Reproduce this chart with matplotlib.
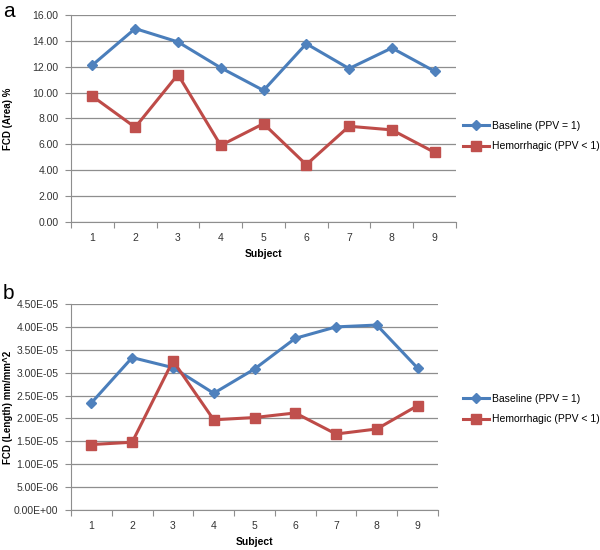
import matplotlib
matplotlib.use("Agg")
import matplotlib.pyplot as plt
import numpy as np
from matplotlib.ticker import FixedLocator, FuncFormatter

subjects = [1, 2, 3, 4, 5, 6, 7, 8, 9]
series_names = ["Baseline (PPV = 1)", "Hemorrhagic (PPV < 1)"]

area_baseline = [12.13, 14.95, 13.92, 11.92, 10.17, 13.78, 11.86, 13.45, 11.65]
area_hemorrhagic = [9.72, 7.32, 11.40, 5.92, 7.60, 4.43, 7.40, 7.12, 5.38]

length_baseline = [2.34e-5, 3.33e-5, 3.11e-5, 2.55e-5, 3.08e-5, 3.75e-5, 4.00e-5, 4.04e-5, 3.10e-5]
length_hemorrhagic = [1.43e-5, 1.48e-5, 3.26e-5, 1.97e-5, 2.02e-5, 2.12e-5, 1.66e-5, 1.77e-5, 2.28e-5]

area_ticks = [0, 2, 4, 6, 8, 10, 12, 14, 16]
length_ticks = [0, 5e-6, 1e-5, 1.5e-5, 2e-5, 2.5e-5, 3e-5, 3.5e-5, 4e-5, 4.5e-5]

plt.rcParams['font.family'] = ['Liberation Sans', 'DejaVu Sans']

BLUE = '#4A7EBB'
RED = '#BE4B48'
GRID = '#8E8E8E'
FS = 7.5
LABEL_FS = 7.0

fig = plt.figure(figsize=(6, 5.5), dpi=100)

def setup(ax, yticks, fmt, ylabel):
    ax.set_xlim(0.5, len(subjects) + 0.5)
    ax.set_ylim(yticks[0], yticks[-1])
    ax.set_yticks(yticks)
    ax.yaxis.set_major_formatter(FuncFormatter(fmt))
    ax.set_xticks(subjects)
    ax.set_xticklabels([str(s) for s in subjects])
    ax.xaxis.set_minor_locator(FixedLocator(np.arange(0.5, len(subjects) + 1, 1.0)))
    ax.tick_params(axis='x', which='major', length=0, pad=8, labelsize=FS, colors='#333333')
    ax.tick_params(axis='x', which='minor', length=4, width=0.8, color=GRID, direction='out')
    ax.tick_params(axis='y', which='major', length=4, width=0.8, color=GRID, labelsize=FS,
                   pad=5, labelcolor='#333333')
    for s in ['top', 'right']:
        ax.spines[s].set_visible(False)
    for s in ['left', 'bottom']:
        ax.spines[s].set_color(GRID)
        ax.spines[s].set_linewidth(0.8)
    ax.grid(axis='y', color=GRID, linewidth=0.9)
    ax.set_axisbelow(True)
    ax.set_xlabel('Subject', fontsize=FS, fontweight='bold', labelpad=4)
    ax.set_ylabel(ylabel, fontsize=LABEL_FS, fontweight='bold', va='center')
    # place y label at a fixed figure x-position (about 8 px from the left edge)
    pos = ax.get_position()
    ax.yaxis.set_label_coords(-(pos.x0 - 8/600) / pos.width, 0.5)

def draw(ax, b, h, legend_y):
    ax.plot(subjects, b, color=BLUE, lw=2.2, marker='D', markersize=5,
            markerfacecolor='#4F81BD', markeredgecolor='#4F81BD', label=series_names[0], clip_on=False)
    ax.plot(subjects, h, color=RED, lw=2.2, marker='s', markersize=7,
            markerfacecolor='#C0504D', markeredgecolor='#C0504D', label=series_names[1], clip_on=False)
    ax.legend(loc='upper left', bbox_to_anchor=(0.771, legend_y), bbox_transform=fig.transFigure,
              frameon=False, fontsize=FS, handlelength=2.5, handletextpad=0.3, labelspacing=1.0,
              borderaxespad=0, borderpad=0)

ax1 = fig.add_axes([71/600, 1 - 222/550, 385/600, 207/550])
setup(ax1, area_ticks, lambda v, p: f"{v:.2f}", "FCD (Area) %")
draw(ax1, area_baseline, area_hemorrhagic, 1 - 121/550)

ax2 = fig.add_axes([71/600, 1 - 510/550, 367/600, 206/550])
setup(ax2, length_ticks, lambda v, p: f"{v:.2E}", "FCD (Length) mm/mm^2")
draw(ax2, length_baseline, length_hemorrhagic, 1 - 394/550)

fig.text(3/600, 1 - 2/550, 'a', fontsize=15, va='top', ha='left')
fig.text(3/600, 1 - 284/550, 'b', fontsize=15, va='top', ha='left')

fig.savefig('out.png', dpi=100)
